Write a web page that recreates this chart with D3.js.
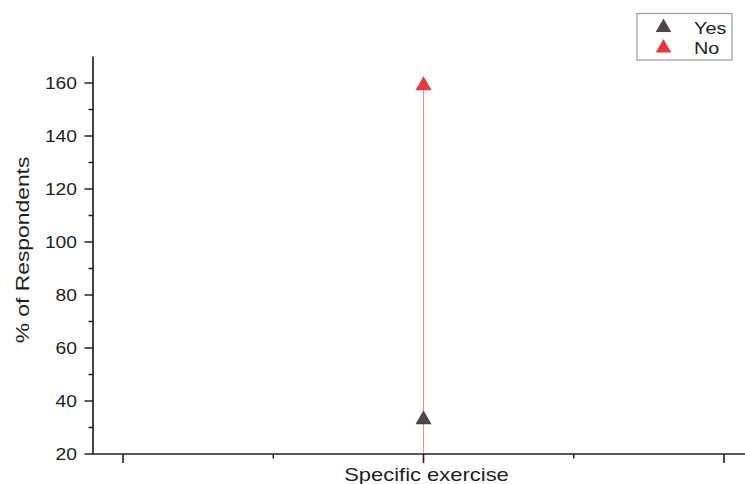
<!DOCTYPE html>
<html>
<head>
<meta charset="utf-8">
<script src="https://cdn.jsdelivr.net/npm/d3@7"></script>
<style>
  html, body { margin: 0; padding: 0; background: #fff; }
  svg { display: block; }
  text { font-family: "Liberation Sans", Arial, sans-serif; fill: #1e1e1e; }
</style>
</head>
<body>
<svg id="chart" width="745" height="484"></svg>
<script>
// Responses per category
const categories = ["Specific exercise"];
const seriesNames = ["Yes", "No"];
const yesValues = [33];
const noValues = [159];
const yTicks = [20, 40, 60, 80, 100, 120, 140, 160];
const seriesColors = ["#4a4547", "#e8373c"];

const svg = d3.select("#chart");
const mLeft = 93, mBottom = 454, mTop = 56.5, mRight = 745;
const WIDE = 1.22; // wide lettering

// category index on a linear axis so half-step minor ticks can be drawn
const x = d3.scaleLinear().domain([-0.1, 2.07]).range([mLeft, mRight]);
const y = d3.scaleLinear().domain([20, 170]).range([mBottom, mTop]);
const catX = i => x(i + 1);

// drop line from the highest marker down to the axis
svg.selectAll("line.drop").data(categories).join("line")
  .attr("class", "drop")
  .attr("x1", (d, i) => catX(i)).attr("x2", (d, i) => catX(i))
  .attr("y1", (d, i) => y(noValues[i])).attr("y2", y(20))
  .attr("stroke", "#e39494").attr("stroke-width", 1.1);

// Y axis
const yAxis = svg.append("g").attr("transform", `translate(${mLeft},0)`);
yAxis.append("line").attr("x1", 0).attr("x2", 0).attr("y1", y(170)).attr("y2", y(20))
  .attr("stroke", "#222").attr("stroke-width", 1.7);
const yMinor = d3.range(30, 170, 20);
yAxis.selectAll("line.minor").data(yMinor).join("line")
  .attr("class", "minor")
  .attr("x1", -4.5).attr("x2", 0).attr("y1", d => y(d)).attr("y2", d => y(d))
  .attr("stroke", "#222").attr("stroke-width", 1.5);
yAxis.selectAll("line.major").data(yTicks).join("line")
  .attr("class", "major")
  .attr("x1", -8.5).attr("x2", 0).attr("y1", d => y(d)).attr("y2", d => y(d))
  .attr("stroke", "#222").attr("stroke-width", 1.5);
yAxis.selectAll("text").data(yTicks).join("text")
  .attr("transform", d => `translate(-16,${y(d)}) scale(1.18,1)`)
  .attr("dy", "0.36em")
  .attr("text-anchor", "end").attr("font-size", 16.3)
  .text(d => d);

// X axis
const xAxis = svg.append("g");
xAxis.append("line").attr("x1", mLeft).attr("x2", mRight).attr("y1", mBottom).attr("y2", mBottom)
  .attr("stroke", "#222").attr("stroke-width", 1.7);
const xMajor = [0, 1, 2];
const xMinor = [0.5, 1.5];
xAxis.selectAll("line.major").data(xMajor).join("line")
  .attr("class", "major")
  .attr("x1", d => x(d)).attr("x2", d => x(d)).attr("y1", mBottom).attr("y2", mBottom + 9)
  .attr("stroke", "#222").attr("stroke-width", 1.6);
xAxis.selectAll("line.minor").data(xMinor).join("line")
  .attr("class", "minor")
  .attr("x1", d => x(d)).attr("x2", d => x(d)).attr("y1", mBottom).attr("y2", mBottom + 4.5)
  .attr("stroke", "#222").attr("stroke-width", 1.5);
xAxis.selectAll("text").data(categories).join("text")
  .attr("transform", (d, i) => `translate(${catX(i) + 3},481) scale(${WIDE},1)`)
  .attr("text-anchor", "middle").attr("font-size", 18)
  .text(d => d);

// Y axis title
svg.append("text")
  .attr("transform", `translate(29,250) rotate(-90) scale(1.27,1)`)
  .attr("text-anchor", "middle").attr("font-size", 18)
  .text("% of Respondents");

// triangle markers
const tri = d3.symbol().type(d3.symbolTriangle).size(112);
const series = [yesValues, noValues];
series.forEach((vals, s) => {
  svg.selectAll(`path.s${s}`).data(vals).join("path")
    .attr("class", `s${s}`)
    .attr("d", tri)
    .attr("transform", (d, i) => `translate(${catX(i)},${y(d)})`)
    .attr("fill", seriesColors[s]);
});

// Legend
const lg = svg.append("g");
lg.append("rect").attr("x", 637).attr("y", 13.5).attr("width", 95).attr("height", 46.5)
  .attr("fill", "#fff").attr("stroke", "#9a9a9a").attr("stroke-width", 1.2);
const legTri = d3.symbol().type(d3.symbolTriangle).size(105);
seriesNames.forEach((name, s) => {
  const base = 33.5 + s * 20.5;
  lg.append("path").attr("d", legTri).attr("transform", `translate(663.5,${base - 6})`)
    .attr("fill", seriesColors[s]);
  lg.append("text").attr("transform", `translate(694,${base}) scale(1.2,1)`)
    .attr("font-size", 16.5).text(name);
});
</script>
</body>
</html>
